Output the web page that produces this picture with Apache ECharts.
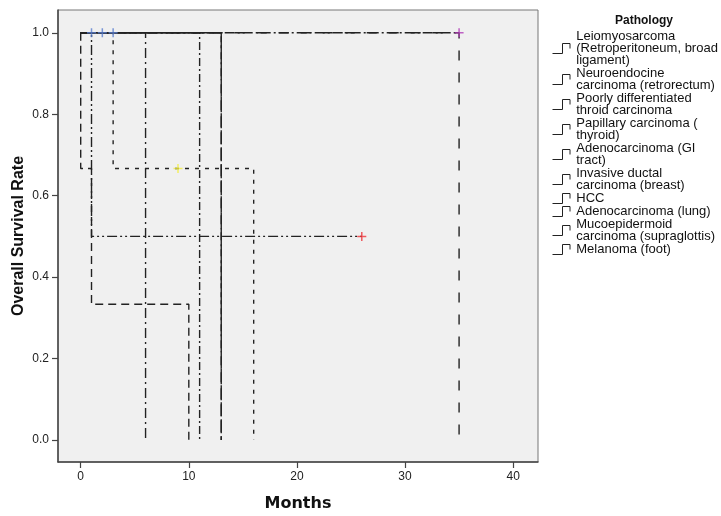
<!DOCTYPE html>
<html>
<head>
<meta charset="utf-8">
<script src="https://cdn.jsdelivr.net/npm/echarts@6/dist/echarts.min.js"></script>
<style>
  html, body { margin: 0; padding: 0; background: #fff; }
  #chart { width: 721px; height: 516px; }
</style>
</head>
<body>
<div id="chart"></div>
<script>
// pathology groups (legend order)
const groups = [
  "Leiomyosarcoma\n(Retroperitoneum, broad\nligament)",
  "Neuroendocine\ncarcinoma (retrorectum)",
  "Poorly differentiated\nthroid carcinoma",
  "Papillary carcinoma (\nthyroid)",
  "Adenocarcinoma (GI\ntract)",
  "Invasive ductal\ncarcinoma (breast)",
  "HCC",
  "Adenocarcinoma (lung)",
  "Mucoepidermoid\ncarcinoma (supraglottis)",
  "Melanoma (foot)",
];

// Kaplan-Meier steps: time points and survival after each point
const stepTimes = [
  [0, 3],
  [0, 6],
  [0, 13],
  [0, 35],
  [0, 3, 9, 16],
  [0, 1, 26],
  [0, 11],
  [0, 13],
  [0, 0, 1, 10],
  [0, 35],
];
const stepSurv = [
  [1, 1],
  [1, 0],
  [1, 0],
  [1, 1],
  [1, 0.6667, 0.6667, 0],
  [1, 0.5, 0.5],
  [1, 0],
  [1, 0],
  [1, 0.6667, 0.3333, 0],
  [1, 0],
];

// censored observations
const censorTimes = [[1, 2, 3], [], [], [35], [9], [26], [], [], [], []];
const censorSurv = [[1, 1, 1], [], [], [1], [0.6667], [0.5], [], [], [], []];

const xTicks = [0, 10, 20, 30, 40];
const yTicks = [0, 0.2, 0.4, 0.6, 0.8, 1.0];

// styles
const dashes = [
  "solid",
  [10, 4, 2, 4],
  [14, 3],
  [10, 3, 2, 3],
  [4, 6],
  [10, 3, 2, 3, 2, 3],
  [8, 3, 2, 3],
  [12, 4],
  [8, 5],
  [10, 12],
];
const censorColors = ["#5b7fd0", "#2eb848", "#d3ce97", "#b03cb8", "#f2ee40", "#ef3338", "#48c2c5", "#999", "#7aaae7", "#0b6e20"];

const font = "Arial, 'Liberation Sans', sans-serif";
const plusIcon = "path://M5,0 L5,10 M0,5 L10,5";
const stepIcon = "path://M0,9 L8,9 L8,1 L14,1 L14,5";

const chart = echarts.init(document.getElementById("chart"));

const series = [];
groups.forEach((name, i) => {
  series.push({
    name: name,
    type: "line",
    step: "end",
    symbol: "none",
    silent: true,
    animation: false,
    lineStyle: { color: "#222", width: 1.4, type: dashes[i] },
    itemStyle: { color: "#222" },
    data: stepTimes[i].map((t, k) => [t, stepSurv[i][k]]),
    z: 2,
  });
  if (censorTimes[i].length) {
    series.push({
      name: name + " censored",
      type: "scatter",
      symbol: plusIcon,
      symbolSize: 9,
      silent: true,
      animation: false,
      itemStyle: { color: "transparent", borderColor: censorColors[i], borderWidth: 1.5 },
      data: censorTimes[i].map((t, k) => [t, censorSurv[i][k]]),
      z: 3,
    });
  }
});

const option = {
  backgroundColor: "#fff",
  animation: false,
  title: {
    text: "Pathology",
    left: 610,
    top: 10,
    textStyle: { fontFamily: font, fontSize: 12, fontWeight: "bold", color: "#111" },
  },
  legend: {
    data: groups,
    orient: "vertical",
    left: 547,
    top: 25,
    itemWidth: 20,
    itemHeight: 10,
    itemGap: 0,
    icon: stepIcon,
    selectedMode: false,
    itemStyle: { color: "transparent", borderColor: "#222", borderWidth: 1 },
    textStyle: { fontFamily: font, fontSize: 13, color: "#111", lineHeight: 12 },
  },
  grid: {
    left: 58,
    top: 10,
    right: 183,
    bottom: 54,
    show: true,
    backgroundColor: "#f0f0f0",
    borderColor: "#777",
    borderWidth: 1,
    outerBoundsMode: "none",
  },
  xAxis: {
    type: "value",
    min: -2.1,
    max: 42.3,
    name: "Months",
    nameLocation: "middle",
    nameGap: 34,
    nameMoveOverlap: false,
    nameTextStyle: { fontFamily: "'DejaVu Sans', Verdana, sans-serif", fontSize: 16, fontWeight: "bold", color: "#111" },
    splitLine: { show: false },
    axisLine: { show: true, onZero: false, lineStyle: { color: "#444", width: 1.5 } },
    axisTick: { show: true, customValues: xTicks, length: 6, lineStyle: { color: "#444", width: 1.2 } },
    axisLabel: { customValues: xTicks, color: "#222", fontSize: 12, fontFamily: font, margin: 9 },
  },
  yAxis: {
    type: "value",
    min: -0.054,
    max: 1.056,
    name: "Overall Survival Rate",
    nameLocation: "middle",
    nameGap: 31,
    nameMoveOverlap: false,
    nameTextStyle: { fontFamily: font, fontSize: 16, fontWeight: "bold", color: "#111" },
    splitLine: { show: false },
    axisLine: { show: true, onZero: false, lineStyle: { color: "#444", width: 1.5 } },
    axisTick: { show: true, customValues: yTicks, length: 6, lineStyle: { color: "#444", width: 1.2 } },
    axisLabel: {
      customValues: yTicks,
      color: "#222",
      fontSize: 12,
      fontFamily: font,
      margin: 9,
      formatter: (v) => v.toFixed(1),
    },
  },
  series: series,
};

chart.setOption(option);
</script>
</body>
</html>
